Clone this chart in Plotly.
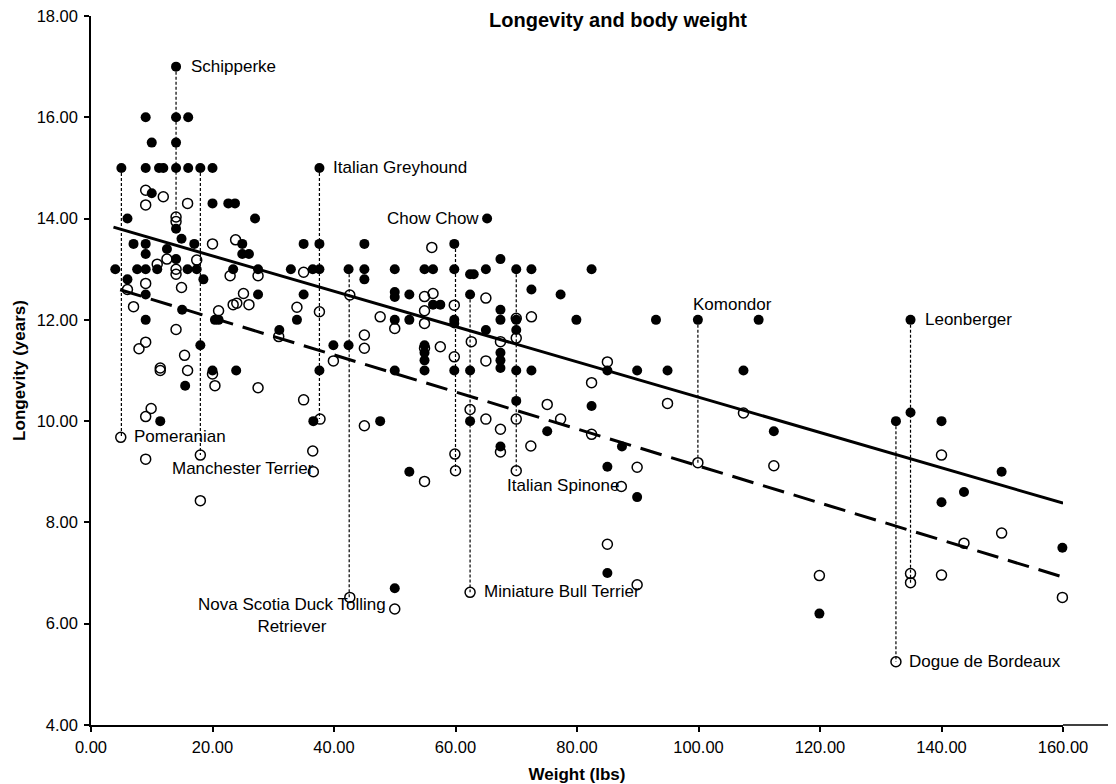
import plotly.graph_objects as go

# ---------------- data ----------------
filled_weight = [
    14, 9, 14, 16, 10, 14,
    5, 9, 11.2, 11.9, 14, 16, 18, 20,
    10, 20, 22.6, 23.7,
    6, 27, 14,
    7, 9, 14.9, 17, 24.9, 35,
    9, 12.5, 24.9, 26,
    4, 7.6, 9, 10.9, 14, 15.9, 17.4, 23.4, 27.5, 32.9,
    6, 18.5,
    9, 15, 9, 20.4, 21, 27.5, 35, 33.9, 31, 18, 20, 23.9, 15.5, 11.4,
    37.6, 65.2,
    37.6, 45, 59.8,
    36.5, 37.6, 42.4, 45, 45, 50, 54.9, 56.3, 59.8, 62.4, 63, 65, 67.4, 70, 72.5,
    72.5, 77.3, 50, 50, 52.4, 62.4, 56.3, 57.5,
    50, 52.4, 59.8, 59.8, 65, 67.4, 67.4, 70, 70,
    39.9, 42.4, 54.9, 54.9, 54.9,
    67.4, 67.4, 67.4,
    37.6, 50, 54.9, 59.8, 62.4, 70, 72.5,
    70, 36.6, 47.6, 62.4, 75.1, 67.4,
    52.4, 50,
    82.4, 79.9, 82.4, 85, 87.4, 85,
    93, 99.9, 109.9, 89.9, 94.9, 107.4, 112.4, 89.9, 85, 119.9,
    134.9, 132.5, 134.9, 140, 149.9, 143.7, 140, 159.9,
]
filled_longevity = [
    17, 16, 16, 16, 15.5, 15.5,
    15, 15, 15, 15, 15, 15, 15, 15,
    14.5, 14.3, 14.3, 14.3,
    14, 14, 13.8,
    13.5, 13.5, 13.6, 13.5, 13.5, 13.5,
    13.3, 13.4, 13.3, 13.3,
    13, 13, 13, 13, 13.2, 13, 13, 13, 13, 13,
    12.8, 12.8,
    12.5, 12.2, 12, 12, 12, 12.5, 12.5, 12, 11.8, 11.5, 11, 11, 10.7, 10,
    15, 14,
    13.5, 13.5, 13.5,
    13, 13, 13, 13, 12.8, 13, 13, 13, 13, 12.9, 12.9, 13, 13.2, 13, 13,
    12.6, 12.5, 12.55, 12.45, 12.5, 12.5, 12.3, 12.3,
    12, 12, 12, 11.93, 11.8, 12, 12.2, 12, 11.8,
    11.5, 11.5, 11.5, 11.35, 11.2,
    11.35, 11.2, 11.05,
    11, 11, 11, 11, 11, 11, 11,
    10.4, 10, 10, 10, 9.8, 9.5,
    9, 6.7,
    13, 12, 10.3, 11, 9.5, 9.1,
    12, 12, 12, 11, 11, 11, 9.8, 8.5, 7, 6.2,
    12, 10, 10.17, 10, 9, 8.6, 8.4, 7.5,
]

open_weight = [
    9, 11.9, 9, 15.9, 14, 14, 20, 23.8, 12.5, 17.4, 14, 14, 22.9, 27.5, 35, 9, 6, 10.9,
    14.9, 7, 25.1, 23.4, 24, 26, 21, 33.9, 14, 30.9, 9, 7.9, 15.4, 11.4, 11.4, 15.9,
    20, 20.4, 27.5, 35, 9.9, 9, 4.9, 9, 18, 18, 36.5, 36.6,
    56.1, 42.6, 54.9, 56.3, 37.6, 59.8, 65, 54.9, 47.6, 50, 54.9, 70, 70, 72.5,
    62.6, 67.4, 45, 45, 39.9, 54.9, 57.5, 59.8, 65, 37.7, 45, 62.4, 65, 67.4, 70,
    75.1, 77.3, 72.4,
    59.9, 60, 67.4, 70, 54.9, 42.6, 50, 62.4,
    82.4, 85, 82.4,
    94.9, 107.4, 99.9, 112.4, 89.9, 87.3, 85, 89.9, 119.9,
    140, 149.9, 143.7, 134.9, 134.9, 140, 159.9, 132.5,
]
open_longevity = [
    14.56, 14.43, 14.27, 14.3, 14.03, 13.94, 13.5, 13.58, 13.2, 13.18, 13.0, 12.9, 12.87, 12.87, 12.94, 12.72, 12.6, 13.1,
    12.64, 12.26, 12.52, 12.3, 12.33, 12.3, 12.18, 12.25, 11.81, 11.67, 11.56, 11.43, 11.3, 11.05, 11.0, 11.0,
    10.93, 10.7, 10.66, 10.42, 10.25, 10.09, 9.68, 9.25, 9.33, 8.43, 9.41, 9.0,
    13.43, 12.49, 12.46, 12.52, 12.16, 12.29, 12.43, 12.18, 12.06, 11.83, 11.93, 12.03, 11.64, 12.06,
    11.57, 11.57, 11.7, 11.44, 11.19, 11.44, 11.47, 11.27, 11.19, 10.04, 9.91, 10.23, 10.04, 9.84, 10.04,
    10.33, 10.04, 9.51,
    9.35, 9.02, 9.39, 9.02, 8.81, 6.52, 6.29, 6.62,
    10.76, 11.17, 9.74,
    10.35, 10.16, 9.18, 9.12, 9.09, 8.71, 7.57, 6.77, 6.95,
    9.33, 7.79, 7.59, 6.99, 6.81, 6.96, 6.52, 5.25,
]

# regression lines
solid_intercept, solid_slope = 13.96, -0.03487
solid_range = [3.7, 160.0]
dashed_intercept, dashed_slope = 12.77, -0.03655
dashed_range = [4.8, 160.2]

# dotted connectors between breed pairs
connector_weight = [5, 14, 18, 37.6, 42.5, 60, 62.4, 70, 99.9, 134.9, 132.5]
connector_top = [15, 17, 15, 15, 13, 13.5, 12.5, 13, 12, 12, 10]
connector_bottom = [9.68, 14.03, 9.33, 10.04, 6.52, 9.02, 6.62, 9.02, 9.18, 6.81, 5.25]

# breed labels
label_text = ["Schipperke", "Italian Greyhound", "Chow Chow", "Komondor", "Leonberger",
              "Pomeranian", "Manchester Terrier", "Italian Spinone", "Miniature Bull Terrier",
              "Nova Scotia Duck Tolling<br>Retriever", "Dogue de Bordeaux"]
label_x = [16.1, 39.5, 64.2, 98.7, 136.9, 6.75, 13.0, 68.2, 64.4, 33.1, 134.4]
label_y = [17.0, 15.0, 14.01, 12.31, 12.0, 9.69, 9.06, 8.72, 6.63, 6.16, 5.25]
label_anchor = ["left", "left", "right", "left", "left", "left", "left", "left", "left", "center", "left"]

x_ticks = [0, 20, 40, 60, 80, 100, 120, 140, 160]
y_ticks = [4, 6, 8, 10, 12, 14, 16, 18]

FONT = "Liberation Sans, Arial, Helvetica, sans-serif"

# the page body adds an 8px margin, so the figure is laid out 8px smaller
W, H = 1108, 776

fig = go.Figure()

# connectors
cx, cy = [], []
for w, t, b in zip(connector_weight, connector_top, connector_bottom):
    cx += [w, w, None]
    cy += [t, b, None]
fig.add_trace(go.Scatter(x=cx, y=cy, mode="lines", hoverinfo="skip",
                         line=dict(color="black", width=1.2, dash="3px,2px"),
                         showlegend=False))

# regression lines
fig.add_trace(go.Scatter(x=solid_range,
                         y=[solid_intercept + solid_slope * v for v in solid_range],
                         mode="lines", line=dict(color="black", width=3),
                         showlegend=False, cliponaxis=False))
fig.add_trace(go.Scatter(x=dashed_range,
                         y=[dashed_intercept + dashed_slope * v for v in dashed_range],
                         mode="lines", line=dict(color="black", width=3, dash="22px,10px"),
                         showlegend=False, cliponaxis=False))

# points
fig.add_trace(go.Scatter(x=filled_weight, y=filled_longevity, mode="markers",
                         marker=dict(symbol="circle", size=10, color="black"),
                         showlegend=False, cliponaxis=False))
fig.add_trace(go.Scatter(x=open_weight, y=open_longevity, mode="markers",
                         marker=dict(symbol="circle-open", size=10, color="black",
                                     line=dict(width=1.5)),
                         showlegend=False, cliponaxis=False))

for t, x, y, a in zip(label_text, label_x, label_y, label_anchor):
    fig.add_annotation(x=x, y=y, text=t, showarrow=False, xanchor=a, yanchor="middle",
                       align="center", font=dict(size=17, color="black", family=FONT))

# extension of x axis line beyond 160 to the right edge
fig.add_shape(type="line", xref="paper", yref="paper", x0=1, x1=(1115 - 91) / 972,
              y0=0, y1=0, line=dict(color="black", width=1.5))

axis_common = dict(showgrid=False, zeroline=False, showline=True, linecolor="black",
                   linewidth=1.5, ticks="outside", ticklen=5, tickwidth=1.5,
                   tickcolor="black", tickformat=".2f", automargin=False,
                   ticklabeloverflow="allow",
                   tickfont=dict(size=16.5, color="black", family=FONT))

fig.update_layout(
    width=W, height=H,
    margin=dict(l=83, r=53, t=8, b=59, autoexpand=False),
    paper_bgcolor="white", plot_bgcolor="white",
    font=dict(family=FONT, color="black"),
    title=dict(text="<b>Longevity and body weight</b>", x=(618 - 8) / W, xref="container",
               xanchor="center", y=1 - (20 - 8) / H, yref="container", yanchor="middle",
               font=dict(size=20, family=FONT, color="black")),
    xaxis=dict(range=[0, 160], tickvals=x_ticks, ticklabelstandoff=1,
               title=dict(text="<b>Weight (lbs)</b>", standoff=16,
                          font=dict(size=17, family=FONT, color="black")),
               **axis_common),
    yaxis=dict(range=[4, 18], tickvals=y_ticks, ticklabelstandoff=3,
               title=dict(text="<b>Longevity (years)</b>", standoff=7,
                          font=dict(size=17, family=FONT, color="black")),
               **axis_common),
)

fig.write_html("out.html")
